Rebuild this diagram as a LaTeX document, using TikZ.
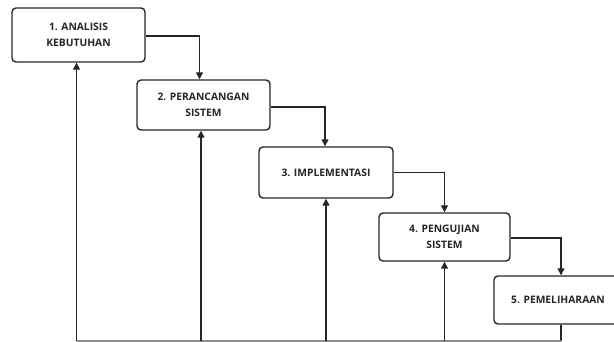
\documentclass[tikz,border=0pt]{standalone}
\usepackage{fontspec}
\setmainfont{Open Sans}
\usetikzlibrary{arrows.meta}
\begin{document}
\begin{tikzpicture}[x=1pt,y=-1pt,
  stage/.style={draw=black!85, line width=1.4pt, rounded corners=4pt, fill=white,
    align=center, font=\fontsize{10.3}{16.5}\selectfont\bfseries, inner sep=0pt, text=black!85},
  flow/.style={draw=black!85, line width=1.4pt, -{Triangle[length=7pt,width=7pt]}},
  plain/.style={draw=black!85, line width=1.4pt}]
\useasboundingbox (0,0) rectangle (614,342);
\begin{scope}
\clip (0,0) rectangle (614,342);
\node[stage, minimum width=133pt, minimum height=54pt] (b1) at (78.5,35) {1. ANALISIS\\KEBUTUHAN};
\node[stage, minimum width=133pt, minimum height=50pt] (b2) at (203.5,105) {2. PERANCANGAN\\SISTEM};
\node[stage, minimum width=134pt, minimum height=51pt] (b3) at (326,172.5) {3. IMPLEMENTASI};
\node[stage, minimum width=131pt, minimum height=48pt] (b4) at (444.5,237) {4. PENGUJIAN\\SISTEM};
\node[stage, minimum width=128pt, minimum height=48pt] (b5) at (558,300) {5. PEMELIHARAAN};

\draw[flow] ([yshift=-1pt]b1.east) -| ([xshift=-4pt]b2.north);
\draw[flow] ([yshift=-2pt]b2.east) -| ([xshift=-1pt]b3.north);
\draw[flow] (b3.east) -| (b4.north);
\draw[flow] ([yshift=-1pt]b4.east) -| ([xshift=3pt]b5.north);

\coordinate (f5) at (561,341);
\coordinate (f1) at (76.5,341);
\coordinate (f2) at (201,341);
\coordinate (f3) at (326,341);
\coordinate (f4) at (444.5,341);
\draw[plain] ([xshift=3pt]b5.south) -- (f5);
\draw[draw=black!45, line width=1.4pt] (f1) -- (f5);
\draw[flow] (f1) -- (f1 |- b1.south);
\draw[flow] (f2) -- (f2 |- b2.south);
\draw[flow] (f3) -- (f3 |- b3.south);
\draw[flow] (f4) -- (f4 |- b4.south);
\end{scope}
\end{tikzpicture}
\end{document}
